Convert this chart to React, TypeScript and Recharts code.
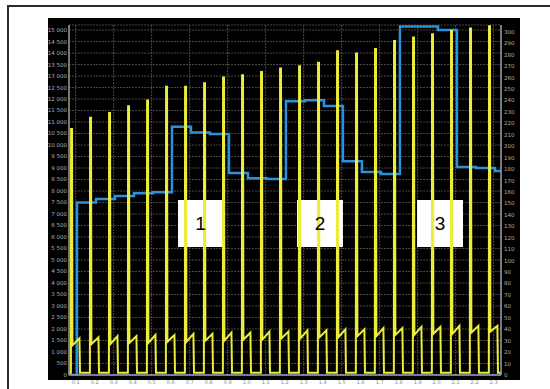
import React from "react";
import { LineChart, Line, XAxis, YAxis, CartesianGrid, ReferenceArea } from "recharts";

// yellow pulses, right axis
const pulsePeaks = [215, 225, 229, 235, 240, 252, 252, 255, 260, 262, 265, 268, 270, 273, 283, 281, 285, 292, 295, 298, 301, 303, 305];
const rampStart = [26, 27, 27, 28, 28, 29, 29, 30, 30, 31, 31, 32, 32, 33, 33, 34, 34, 35, 35, 36, 36, 37, 38];
const rampEnd = [32, 33, 34, 34, 35, 35, 36, 36, 37, 37, 38, 38, 39, 39, 40, 40, 41, 41, 42, 42, 43, 43, 43];
const baseLevel = 2;

// blue step levels, left axis
const stepLevels = [7500, 7650, 7780, 7900, 7950, 10800, 10550, 10480, 8780, 8560, 8520, 11900, 11950, 11700, 9300, 8830, 8740, 15150, 15150, 15000, 9050, 9000, 8870];

const leftTicks = [0, 500, 1000, 1500, 2000, 2500, 3000, 3500, 4000, 4500, 5000, 5500, 6000, 6500, 7000, 7500, 8000, 8500, 9000, 9500, 10000, 10500, 11000, 11500, 12000, 12500, 13000, 13500, 14000, 14500, 15000];
const rightTicks = [0, 10, 20, 30, 40, 50, 60, 70, 80, 90, 100, 110, 120, 130, 140, 150, 160, 170, 180, 190, 200, 210, 220, 230, 240, 250, 260, 270, 280, 290, 300];
const xTicks = [0.35, 1.35, 2.35, 3.35, 4.35, 5.35, 6.35, 7.35, 8.35, 9.35, 10.35, 11.35, 12.35, 13.35, 14.35, 15.35, 16.35, 17.35, 18.35, 19.35, 20.35, 21.35, 22.35];
const xTickLabels = ["0.1", "0.2", "0.3", "0.4", "0.5", "0.6", "0.7", "0.8", "0.9", "1.0", "1.1", "1.2", "1.3", "1.4", "1.5", "1.6", "1.7", "1.8", "1.9", "2.0", "2.1", "2.2", "2.3"];

const markers = [
  { label: "1", from: 5.74, to: 8.1 },
  { label: "2", from: 12.0, to: 14.42 },
  { label: "3", from: 18.32, to: 20.74 },
];

const X_MAX = 22.74;

const yellowData = [{ t: 0, v: baseLevel }];
pulsePeaks.forEach((p, i) => {
  const t = 0.1 + i;
  yellowData.push(
    { t, v: baseLevel },
    { t: t + 0.01, v: p },
    { t: t + 0.06, v: p },
    { t: t + 0.08, v: rampStart[i] },
    { t: t + 0.45, v: rampEnd[i] },
    { t: t + 0.48, v: baseLevel }
  );
});
yellowData.push({ t: X_MAX, v: baseLevel });

const blueData = [{ t: 0, v: 0 }, ...stepLevels.map((v, i) => ({ t: 0.42 + i, v }))];
blueData.push({ t: X_MAX, v: stepLevels[stepLevels.length - 1] });

// non-breaking space so recharts does not wrap "15 000" onto two lines
const fmtThousands = (v: number) =>
  v >= 1000 ? `${Math.floor(v / 1000)}\u00a0${String(v % 1000).padStart(3, "0")}` : String(v);

const tickStyle = { fontSize: 5.5, fill: "#b0b0b0", fontFamily: "DejaVu Sans" };

export default function App() {
  return (
    <div style={{ position: "absolute", left: 0, top: 0, width: 550, height: 389, background: "#fff" }}>
      <div
        style={{
          position: "absolute",
          left: 7,
          top: 5,
          width: 543,
          height: 384,
          borderTop: "2px solid #2b2b2b",
          borderLeft: "2px solid #2b2b2b",
          boxSizing: "border-box",
        }}
      />
      <div style={{ position: "absolute", left: 48, top: 18, width: 472, height: 362, background: "#000" }} />
      <div style={{ position: "absolute", left: 48, top: 18 }}>
        <LineChart width={472} height={371} margin={{ top: 7, right: 0, bottom: 0, left: 0 }}>
          <CartesianGrid yAxisId="left" stroke="#474747" strokeDasharray="2 1" strokeWidth={1} />
          <XAxis
            dataKey="t"
            type="number"
            domain={[0, X_MAX]}
            allowDataOverflow
            ticks={xTicks}
            tickFormatter={(_v: number, i: number) => xTickLabels[i]}
            height={14}
            tickSize={0}
            tickMargin={5}
            tickLine={false}
            tick={{ ...tickStyle, fontSize: 5, fill: "#8a8a8a" }}
            axisLine={{ stroke: "#9aa6b2", strokeWidth: 1.5 }}
          />
          <XAxis
            xAxisId="top"
            orientation="top"
            dataKey="t"
            type="number"
            domain={[0, X_MAX]}
            allowDataOverflow
            height={0}
            tick={false}
            tickLine={false}
            axisLine={{ stroke: "#9a9a9a", strokeWidth: 1.5 }}
          />
          <YAxis
            yAxisId="left"
            type="number"
            domain={[0, 15220]}
            allowDataOverflow
            ticks={leftTicks}
            tickFormatter={fmtThousands}
            width={21}
            tickSize={0}
            tickMargin={2}
            tickLine={false}
            tick={tickStyle}
            axisLine={{ stroke: "#9a9a9a", strokeWidth: 1.5 }}
            interval={0}
          />
          <YAxis
            yAxisId="right"
            orientation="right"
            type="number"
            domain={[0, 306]}
            allowDataOverflow
            ticks={rightTicks}
            width={19}
            tickSize={0}
            tickMargin={3}
            tickLine={false}
            tick={tickStyle}
            axisLine={{ stroke: "#9a9a9a", strokeWidth: 1.5 }}
            interval={0}
          />
          <Line
            yAxisId="left"
            data={blueData}
            dataKey="v"
            type="stepAfter"
            stroke="#2a91da"
            strokeWidth={2.5}
            dot={false}
            activeDot={false}
            isAnimationActive={false}
          />
          <Line
            yAxisId="right"
            data={yellowData}
            dataKey="v"
            type="linear"
            stroke="#ecec3a"
            strokeWidth={2}
            dot={false}
            activeDot={false}
            isAnimationActive={false}
          />
          {markers.map((m) => (
            <ReferenceArea
              key={m.label}
              yAxisId="right"
              x1={m.from}
              x2={m.to}
              y1={112}
              y2={153}
              fill="#ffffff"
              fillOpacity={1}
              stroke="none"
              label={{ value: m.label, position: "center", fill: "#000", fontSize: 19, fontFamily: "Liberation Sans" }}
            />
          ))}
        </LineChart>
      </div>
    </div>
  );
}
